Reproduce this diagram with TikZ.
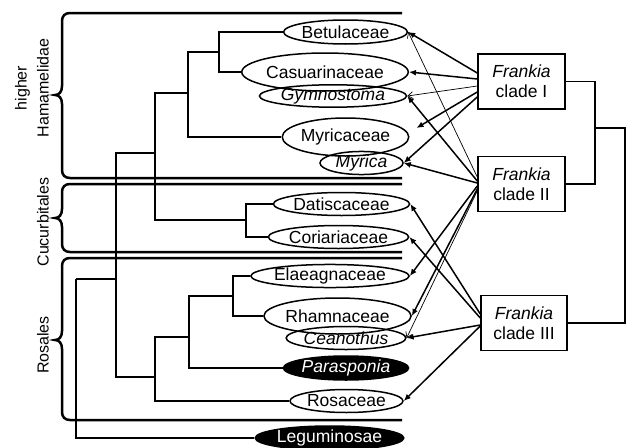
\documentclass[tikz,border=0pt]{standalone}
\usepackage{fontspec}
\setmainfont{Liberation Sans}
\usetikzlibrary{shapes.geometric,arrows.meta,calc}
\begin{document}
\begin{tikzpicture}[x=1pt,y=-1pt,
  font=\fontsize{17.5}{20}\selectfont,
  ell/.style={ellipse,draw,line width=1.5pt,inner sep=0pt},
  dark/.style={ellipse,draw,line width=1.5pt,inner sep=0pt,fill=black,text=white},
  box/.style={rectangle,draw,line width=1.5pt,minimum width=87pt,minimum height=55pt,align=center,inner sep=0pt},
  tree/.style={line width=1.5pt},
  grp/.style={line width=2.5pt},
  thk/.style={line width=1.5pt,-{Latex[length=7pt,width=6pt]}},
  thn/.style={line width=0.7pt,-{Straight Barb[length=5pt,width=7pt]}},
  lab/.style={rotate=90,align=center,font=\fontsize{16}{22}\selectfont}
]
\useasboundingbox (0,0) rectangle (626,447);

% group brackets
\draw[grp] (402,13) -- (70,13) .. controls (65,13) and (62,16) .. (62,21) -- (62,86)
  .. controls (62,92) and (59,95) .. (55,95) .. controls (59,95) and (62,98) .. (62,104)
  -- (62,170) .. controls (62,175) and (65,178) .. (70,178) -- (402,178);
\draw[grp] (402,184) -- (70,184) .. controls (65,184) and (62,187) .. (62,192) -- (62,209)
  .. controls (62,215) and (59,218) .. (55,218) .. controls (59,218) and (62,221) .. (62,227)
  -- (62,244) .. controls (62,249) and (65,252) .. (70,252) -- (402,252);
\draw[grp] (402,258) -- (70,258) .. controls (65,258) and (62,261) .. (62,266) -- (62,331)
  .. controls (62,337) and (59,340) .. (55,340) .. controls (59,340) and (62,343) .. (62,349)
  -- (62,412) .. controls (62,417) and (65,420) .. (70,420) -- (402,420);

\node[lab] (hh) at (32,88) {higher\\Hamamelidae};
\node[lab] (cu) at (43,222) {Cucurbitales};
\node[lab] (ro) at (43,345) {Rosales};

% leaves
\node[ell,minimum width=115pt,minimum height=24pt] (bet) at (345.5,32) {Betulaceae};
\node[ell,minimum width=156pt,minimum height=38pt] (cas) at (325,72) {Casuarinaceae};
\node[ell,minimum width=140pt,minimum height=22pt] (gym) at (333,96) {\itshape Gymnostoma};
\node[ell,minimum width=115pt,minimum height=38pt] (myr) at (345.5,137) {Myricaceae};
\node[ell,minimum width=83pt,minimum height=22pt] (myc) at (361.5,163) {\itshape Myrica};
\node[ell,minimum width=123pt,minimum height=23pt] (dat) at (341.5,204) {Datiscaceae};
\node[ell,minimum width=129pt,minimum height=23pt] (cor) at (338.5,237) {Coriariaceae};
\node[ell,minimum width=146pt,minimum height=23pt] (ela) at (330,276) {Elaeagnaceae};
\node[ell,minimum width=131pt,minimum height=36pt] (rha) at (337.5,316) {Rhamnaceae};
\node[ell,minimum width=114pt,minimum height=23pt] (cea) at (346,338) {\itshape Ceanothus};
\node[dark,minimum width=114pt,minimum height=24pt] (par) at (346,368) {\itshape Parasponia};
\node[ell,minimum width=113pt,minimum height=23pt] (ros) at (346.5,401) {Rosaceae};
\node[dark,minimum width=147pt,minimum height=24pt] (leg) at (329.5,438) {Leguminosae};

% tree
\coordinate (n1) at (219,52);
\coordinate (n2) at (188,93);
\coordinate (n3) at (155,153);
\coordinate (n4) at (246,220);
\coordinate (n5) at (116,279);
\coordinate (n6) at (155,377);
\coordinate (n7) at (189,337);
\coordinate (n8) at (233,296);
\coordinate (rt) at (76,279);
\draw[tree] (n1) |- (bet.west);
\draw[tree] (n1) |- (cas.west);
\draw[tree] (n2) |- (n1);
\draw[tree] (n2) |- (myr.west);
\draw[tree] (n3) |- (n2);
\draw[tree] (n3) |- (n4);
\draw[tree] (n4) |- (dat.west);
\draw[tree] (n4) |- (cor.west);
\draw[tree] (n5) |- (n3);
\draw[tree] (n5) |- (n6);
\draw[tree] (n6) |- (n7);
\draw[tree] (n6) |- (ros.west);
\draw[tree] (n7) |- (n8);
\draw[tree] (n7) |- (par.west);
\draw[tree] (n8) |- (ela.west);
\draw[tree] (n8) |- (rha.west);
\draw[tree] (rt) -- (n5);
\draw[tree] (rt) |- (leg.west);

% Frankia clades
\node[box] (c1) at (521.5,81.5) {\textit{Frankia}\\clade I};
\node[box] (c2) at (521.5,184) {\textit{Frankia}\\clade II};
\node[box,minimum width=86pt] (c3) at (524,323) {\textit{Frankia}\\clade III};
\coordinate (j1) at (595,128);
\coordinate (j2) at (625,128);
\draw[tree] (c1.east) -| (j1) |- (c2.east);
\draw[tree] (j1) -- (j2) |- (c3.east);

% arrows from clade I
\draw[thk] ($(c1.west)+(0,-8.5)$) -- (bet.east);
\draw[thk] ($(c1.west)+(0,-2.5)$) -- (cas.east);
\draw[thn] ($(c1.west)+(0,4.5)$) -- (gym.east);
\draw[thk] ($(c1.west)+(0,10.5)$) -- ($(myr.east)+(7,-9)$);
\draw[thk] ($(c1.west)+(0,15.5)$) -- (myc.east);
% arrows from clade II
\draw[thn] ($(c2.west)+(0,-7)$) -- (bet.east);
\draw[thk] ($(c2.west)+(0,-3)$) -- (gym.east);
\draw[thk] ($(c2.west)+(0,-1)$) -- (myc.east);
\draw[thk] ($(c2.west)+(0,2)$) -- (ela.east);
\draw[thk] ($(c2.west)+(0,5)$) -- (rha.east);
\draw[thn] ($(c2.west)+(0,7)$) -- (cea.east);
% arrows from clade III
\draw[thk] ($(c3.west)+(0,-9)$) -- (dat.east);
\draw[thk] ($(c3.west)+(0,-5)$) -- (cor.east);
\draw[thk] ($(c3.west)+(0,2)$) -- (cea.east);
\draw[thk] ($(c3.west)+(0,3)$) -- (ros.east);
\end{tikzpicture}
\end{document}
